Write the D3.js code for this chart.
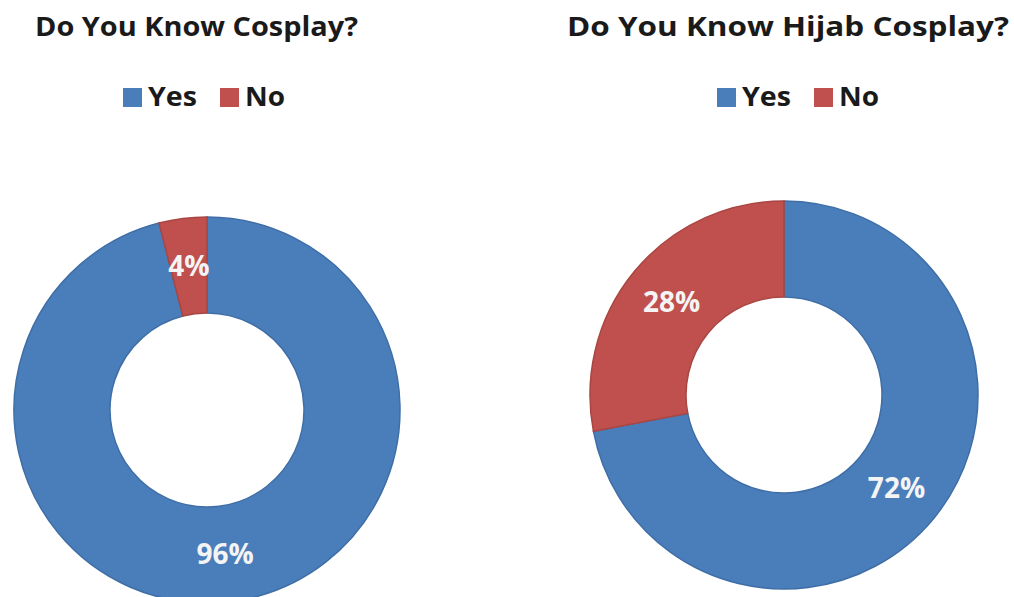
<!DOCTYPE html>
<html>
<head>
<meta charset="utf-8">
<script src="https://cdn.jsdelivr.net/npm/d3@7"></script>
<style>
  html, body { margin: 0; padding: 0; background: #ffffff; }
  svg { display: block; }
  text { font-family: "Open Sans", "DejaVu Sans", sans-serif; font-weight: bold; }
</style>
</head>
<body>
<svg id="chart" width="1014" height="597"></svg>
<script>
// ---- data ----
const categories = ["Yes", "No"];
const titles = ["Do You Know Cosplay?", "Do You Know Hijab Cosplay?"];
const cosplayValues = [96, 4];
const hijabCosplayValues = [72, 28];
const colors = ["#4a7ebb", "#c0504d"];
const strokeColors = ["#3f6ea6", "#a94643"];

// ---- layout ----
const panels = [
  { title: titles[0], values: cosplayValues, cx: 207, cy: 410, rOuter: 193, rInner: 97,
    titleX: 35, titleW: 323, legendX: 123 },
  { title: titles[1], values: hijabCosplayValues, cx: 784, cy: 395, rOuter: 194, rInner: 98,
    titleX: 567, titleW: 442, legendX: 717 }
];

const svg = d3.select("#chart");
const color = d3.scaleOrdinal().domain(categories).range(colors);
const stroke = d3.scaleOrdinal().domain(categories).range(strokeColors);

const pie = d3.pie().sort(null).value(d => d.value).startAngle(0).endAngle(2 * Math.PI);

panels.forEach(p => {
  const data = categories.map((c, i) => ({ category: c, value: p.values[i] }));
  const arcs = pie(data);
  const arc = d3.arc().innerRadius(p.rInner).outerRadius(p.rOuter);
  const labelArc = d3.arc().innerRadius((p.rInner + p.rOuter) / 2).outerRadius((p.rInner + p.rOuter) / 2);

  // title
  svg.append("text")
    .attr("x", p.titleX).attr("y", 36)
    .attr("font-size", 26)
    .attr("fill", "#1a1a1a")
    .attr("textLength", p.titleW)
    .attr("lengthAdjust", "spacingAndGlyphs")
    .text(p.title);

  // legend
  const legendItems = [
    { cat: "Yes", sx: p.legendX, tw: 49 },
    { cat: "No", sx: p.legendX + 97, tw: 40 }
  ];
  legendItems.forEach(li => {
    svg.append("rect")
      .attr("x", li.sx).attr("y", 88)
      .attr("width", 19).attr("height", 19)
      .attr("fill", color(li.cat));
    svg.append("text")
      .attr("x", li.sx + 25).attr("y", 106)
      .attr("font-size", 26)
      .attr("fill", "#1a1a1a")
      .attr("textLength", li.tw)
      .attr("lengthAdjust", "spacingAndGlyphs")
      .text(li.cat);
  });

  const g = svg.append("g").attr("transform", `translate(${p.cx},${p.cy})`);

  g.selectAll("path.slice")
    .data(arcs)
    .join("path")
    .attr("class", "slice")
    .attr("d", arc)
    .attr("fill", d => color(d.data.category))
    .attr("stroke", d => stroke(d.data.category))
    .attr("stroke-width", 1.5);

  g.selectAll("text.lbl")
    .data(arcs)
    .join("text")
    .attr("class", "lbl")
    .attr("transform", d => {
      const c = labelArc.centroid(d);
      return `translate(${c[0]},${c[1]})`;
    })
    .attr("text-anchor", "middle")
    .attr("dy", "0.35em")
    .attr("font-size", 28)
    .attr("fill", "#f4f4f4")
    .text(d => d.data.value + "%");
});
</script>
</body>
</html>
